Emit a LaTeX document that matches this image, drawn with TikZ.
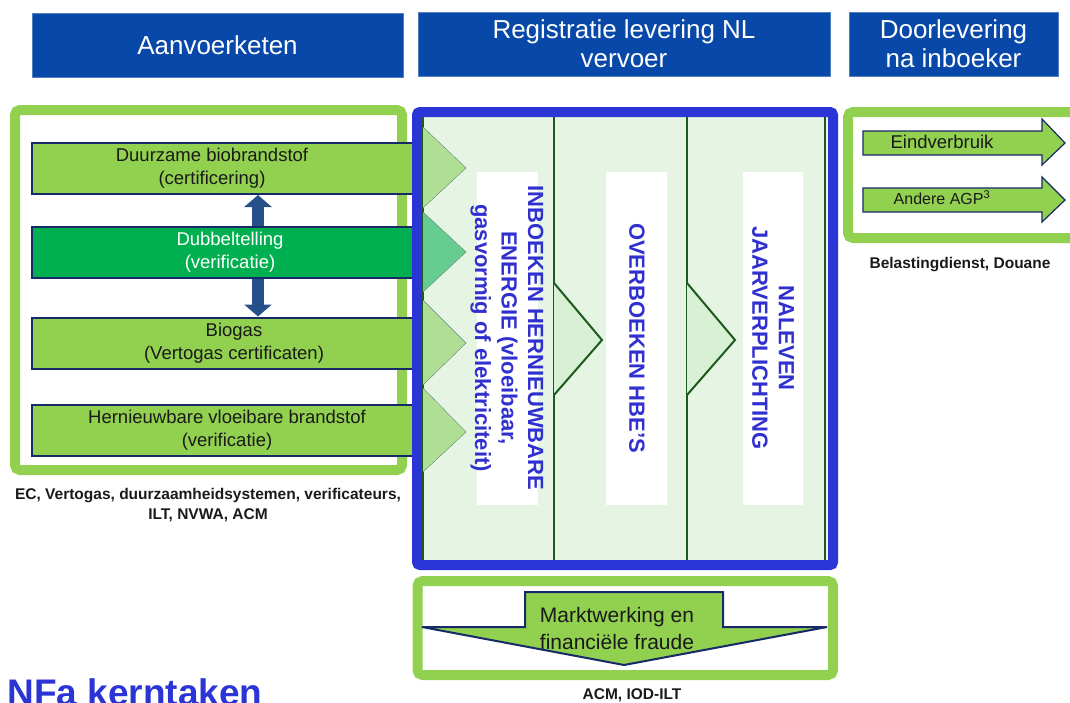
\documentclass[tikz,border=0pt]{standalone}
\usepackage{fontspec}
\setmainfont{Liberation Sans}
\usetikzlibrary{arrows.meta}
\definecolor{hdrblue}{RGB}{8,72,168}
\definecolor{frameblue}{RGB}{43,53,214}
\definecolor{txtblue}{RGB}{48,48,208}
\definecolor{lgreen}{RGB}{146,208,80}
\definecolor{dgreen}{RGB}{0,176,80}
\definecolor{navy}{RGB}{22,42,104}
\definecolor{paleg}{RGB}{230,245,227}
\definecolor{chevA}{RGB}{176,222,149}
\definecolor{chevB}{RGB}{102,204,143}
\definecolor{chevline}{RGB}{92,138,120}
\definecolor{colline}{RGB}{30,90,30}
\definecolor{colfill}{RGB}{216,240,212}
\definecolor{steel}{RGB}{37,80,138}
\definecolor{txtdark}{RGB}{26,26,26}
\tikzset{
  hdr/.style={fill=hdrblue, draw=hdrblue!70!white, text=white, align=center,
    font=\fontsize{26}{32}\selectfont},
  bar/.style={fill=lgreen, draw=navy, line width=2, minimum width=386, minimum height=51},
  bartxt/.style={text=txtdark, align=center, font=\fontsize{18.5}{23}\selectfont},
  frame/.style={lgreen, line width=10, rounded corners=5},
  rot/.style={rotate=-90, text=txtblue, align=center, font=\bfseries\fontsize{22}{26.5}\selectfont},
  note/.style={text=txtdark, align=center, font=\bfseries\fontsize{15.5}{20}\selectfont},
  flowarrow/.style={fill=lgreen, draw=navy, line width=1.2},
}
\begin{document}
\begin{tikzpicture}[x=1pt, y=-1pt]
\useasboundingbox (0,0) rectangle (1070,702);

\node[hdr, minimum width=371, minimum height=64] (aanv) at (217.5,45.5) {Aanvoerketen};
\node[hdr, minimum width=412, minimum height=64] (regi) at (624,44) {Registratie levering NL\\[-3pt]vervoer};
\node[hdr, minimum width=209, minimum height=64] (door) at (953.5,44) {Doorlevering\\[-3pt]na inboeker};

\draw[frame] (15,110) rectangle (402,470);
\node[bar] (bio) at (225,168.5) {};
\node[bar, fill=dgreen] (dubbel) at (225,252) {};
\node[bar] (gas) at (225,343) {};
\node[bar] (vloei) at (225,430.5) {};
\coordinate (as) at (258,0);
\draw[steel, line width=12, {Triangle[width=27pt,length=12pt]}-{Triangle[width=27pt,length=12pt]}]
  (as |- bio.south) -- (as |- gas.north);
\node[bar, fill=dgreen] at (dubbel) {};
\node[bartxt] at (212,168.5) {Duurzame biobrandstof\\(certificering)};
\node[bartxt, text=white] at (230,252) {Dubbeltelling\\(verificatie)};
\node[bartxt] at (234,343) {Biogas\\(Vertogas certificaten)};
\node[bartxt] at (227,430.5) {Hernieuwbare vloeibare brandstof\\(verificatie)};
\node[note] (toez1) at (208,505) {EC, Vertogas, duurzaamheidsystemen, verificateurs,\\ILT, NVWA, ACM};

\draw[frameblue, line width=10, rounded corners=3, fill=paleg] (417,112) rectangle (833,565);
\foreach \x in {423,554,687,825}
  \draw[colline, line width=2] (\x,117) -- (\x,560);
\draw[chevline, fill=chevA] (423,127) -- (466,168) -- (423,208);
\draw[chevline, fill=chevB] (423,212) -- (466,252) -- (423,292);
\draw[chevline, fill=chevA] (423,300) -- (466,343) -- (423,385);
\draw[chevline, fill=chevA] (423,388) -- (466,432) -- (423,472);
\foreach \x in {554,687}
  \draw[colline, line width=2, fill=colfill] (\x,283) -- (\x+48,340) -- (\x,395);
\fill[white] (477,172) rectangle (538,505);
\fill[white] (606,172) rectangle (667,505);
\fill[white] (743,172) rectangle (803,505);
\node[rot] (inboek) at (507,338) {INBOEKEN HERNIEUWBARE\\ENERGIE (vloeibaar,\\gasvormig of elektriciteit)};
\node[rot] (overboek) at (637,338) {OVERBOEKEN HBE'S};
\node[rot] (naleven) at (773,338) {NALEVEN\\JAARVERPLICHTING};

\draw[frame] (417.5,581) rectangle (833,675);
\draw[flowarrow, line width=2] (525,592) -- (723,592) -- (723,627) -- (827,627) -- (624,665)
  -- (422,627) -- (525,627) -- cycle;
\node[bartxt, font=\fontsize{21}{27}\selectfont] (markt) at (617,628.5) {Marktwerking en\\financiële fraude};
\node[note] (toez2) at (632,695) {ACM, IOD-ILT};

\draw[frame] (848,112) rectangle (1085,238);
\draw[flowarrow] (863,131) -- (1042,131) -- (1042,119) -- (1065,143) -- (1042,165) -- (1042,155)
  -- (863,155) -- cycle;
\draw[flowarrow] (863,188) -- (1042,188) -- (1042,177) -- (1065,200) -- (1042,222) -- (1042,212)
  -- (863,212) -- cycle;
\node[text=txtdark, font=\fontsize{18.5}{22}\selectfont] (eind) at (942,142) {Eindverbruik};
\node[text=txtdark, font=\fontsize{16}{20}\selectfont] (agp) at (942,198) {Andere AGP\textsuperscript{3}};
\node[note] (toez3) at (960,265) {Belastingdienst, Douane};

\node[anchor=base west, text=frameblue, font=\bfseries\fontsize{37}{44}\selectfont] (kern) at (4,705) {NFa kerntaken};
\end{tikzpicture}
\end{document}
